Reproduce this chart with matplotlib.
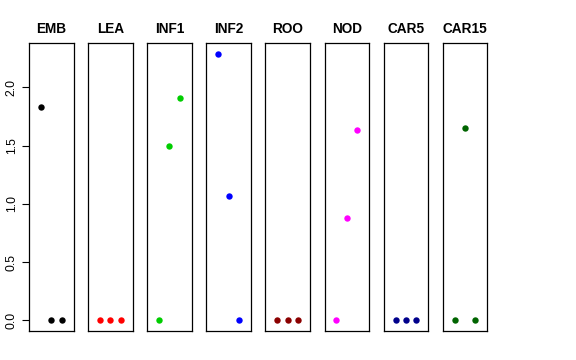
import matplotlib
matplotlib.use("Agg")
import matplotlib.pyplot as plt

plt.rcParams['font.family'] = ['Liberation Sans', 'DejaVu Sans']

# one panel per tissue, three samples each
tissues = ['EMB', 'LEA', 'INF1', 'INF2', 'ROO', 'NOD', 'CAR5', 'CAR15']
values = {
    'EMB':   [1.83, 0.0, 0.0],
    'LEA':   [0.0, 0.0, 0.0],
    'INF1':  [0.0, 1.50, 1.91],
    'INF2':  [2.29, 1.064, 0.0],
    'ROO':   [0.0, 0.0, 0.0],
    'NOD':   [0.0, 0.88, 1.636],
    'CAR5':  [0.0, 0.0, 0.0],
    'CAR15': [0.0, 1.653, 0.0],
}
colors = ['black', '#FF0000', '#00CD00', '#0000FF', '#8B0000', '#FF00FF', '#00008B', '#006400']
samples = [1, 2, 3]
yticks = [0.0, 0.5, 1.0, 1.5, 2.0]

W, H = 576, 360
fig = plt.figure(figsize=(W / 100, H / 100), dpi=100)

ymax = max(max(v) for v in values.values())
pad = 0.04 * ymax
left0, step, width = 29, 59.1, 44.5
top, bottom = 43, 331

for i, (name, col) in enumerate(zip(tissues, colors)):
    x0 = left0 + i * step
    ax = fig.add_axes([x0 / W, 1 - bottom / H, width / W, (bottom - top) / H])
    ax.plot(samples, values[name], 'o', color=col, markersize=4.6, markeredgewidth=0)
    ax.set_xlim(-0.16, 4.16)
    ax.set_ylim(-pad, ymax + pad)
    ax.set_xticks([])
    for s in ax.spines.values():
        s.set_linewidth(0.9)
    ax.set_title(name, fontsize=9.8, fontweight='bold', pad=7)
    if i == 0:
        ax.set_yticks(yticks)
        ax.set_yticklabels([f'{t:.1f}' for t in yticks], rotation=90, va='center', fontsize=8.8)
        ax.tick_params(axis='y', length=5, width=0.8, pad=3)
    else:
        ax.set_yticks([])

fig.savefig('out.png', dpi=100)
